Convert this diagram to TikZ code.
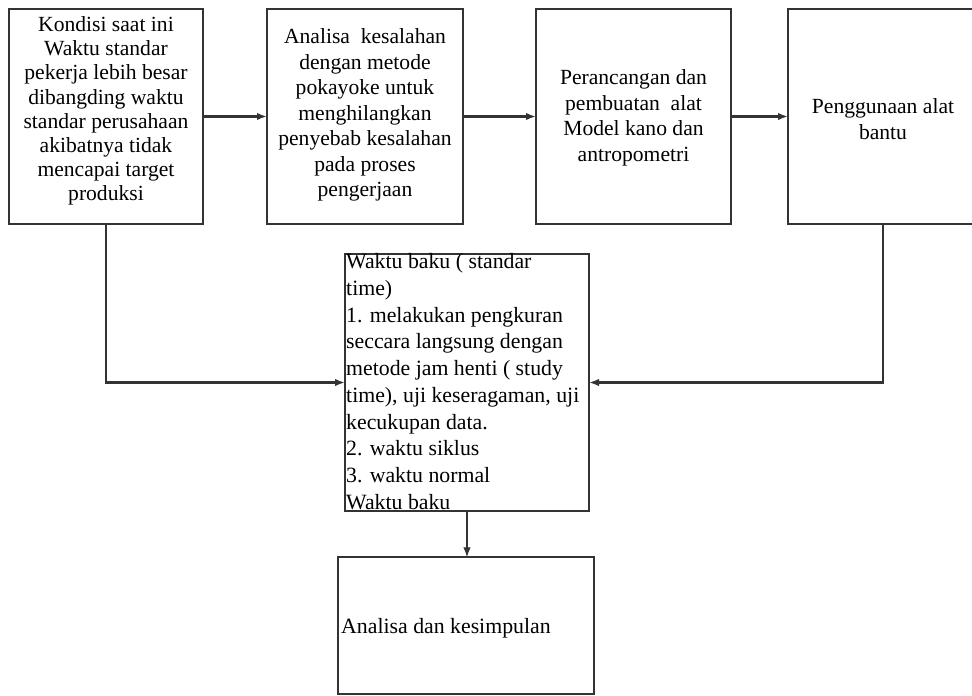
\documentclass[tikz,border=0pt]{standalone}
\usepackage{fontspec}
\setmainfont{Liberation Serif}
\usetikzlibrary{arrows.meta}
\begin{document}
\begin{tikzpicture}[x=1pt,y=-1pt,
  box/.style={draw=black!80, line width=2.4pt, inner sep=0pt, outer sep=0pt, fill=white},
  toptext/.style={align=center, text=black, font=\fontsize{21.6}{25.5}\selectfont},
  midtext/.style={align=left, text=black, inner sep=0pt, font=\fontsize{21.8}{26.7}\selectfont},
  conn/.style={draw=black!80, line width=2.1pt, -{Latex[length=10pt,width=7.5pt]}},
  thinconn/.style={draw=black!80, line width=1.2pt, -{Latex[length=10pt,width=7.5pt]}}]
\useasboundingbox (0,0) rectangle (972,696);
\fill[white] (0,0) rectangle (972,696);
% top row
\node[box, minimum width=194pt, minimum height=215pt] (b1) at (106,116.5) {};
\node[toptext, font=\fontsize{21.6}{24.2}\selectfont] (t1) at (106,111) {Kondisi saat ini\\Waktu standar\\pekerja lebih besar\\dibangding waktu\\standar perusahaan\\akibatnya tidak\\mencapai target\\produksi};
\node[box, minimum width=196pt, minimum height=215pt] (b2) at (365,116.5) {};
\node[toptext] (t2) at (365,115) {Analisa\ \ kesalahan\\dengan metode\\pokayoke untuk\\menghilangkan\\penyebab kesalahan\\pada proses\\pengerjaan};
\node[box, minimum width=195pt, minimum height=215pt] (b3) at (633.5,116.5) {};
\node[toptext] (t3) at (633.5,118) {Perancangan dan\\pembuatan\ \ alat\\Model kano dan\\antropometri};
\node[box, minimum width=190pt, minimum height=215pt] (b4) at (883,116.5) {};
\node[toptext] (t4) at (883,119) {Penggunaan alat\\bantu};
% centre box
\node[box, minimum width=244pt, minimum height=257pt] (c) at (467,382.5) {};
\node[midtext, anchor=north west] (ct) at (346,253.5) {Waktu baku ( standar\\time)\\1. melakukan pengkuran\\seccara langsung dengan\\metode jam henti ( study\\time), uji keseragaman, uji\\kecukupan data.\\2. waktu siklus\\3. waktu normal\\Waktu baku};
% bottom box
\node[box, minimum width=256pt, minimum height=136.5pt] (d) at (466,625.5) {};
\node[midtext, anchor=west] (dt) at (341,628) {Analisa dan kesimpulan};
% connectors
\draw[conn] (b1.east) -- (b2.west);
\draw[conn] (b2.east) -- (b3.west);
\draw[conn] (b3.east) -- (b4.west);
\draw[conn] (b1.south) |- (c.west);
\draw[conn] (b4.south) |- (c.east);
\draw[thinconn] (c.south) -- (c.south |- d.north);
\end{tikzpicture}
\end{document}
